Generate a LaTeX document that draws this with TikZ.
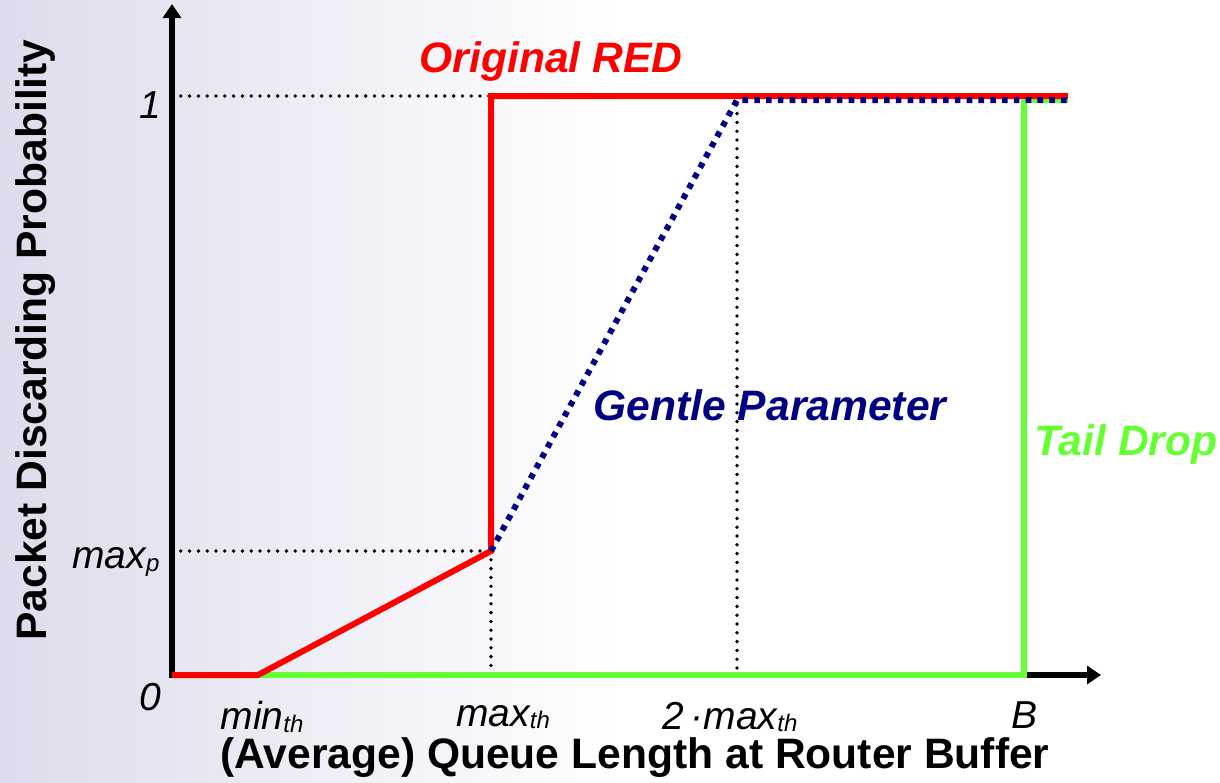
\documentclass[tikz,border=0pt]{standalone}
\usepackage{fontspec}
\setmainfont{Liberation Sans}
\usetikzlibrary{arrows.meta}
\definecolor{redline}{RGB}{255,0,0}
\definecolor{tailgreen}{RGB}{102,255,51}
\definecolor{gentleblue}{RGB}{0,0,128}
\definecolor{bgtint}{RGB}{220,220,236}
\newcommand{\sub}[1]{\raisebox{-0.1ex}{\fontsize{12}{12}\selectfont #1}}

\begin{document}
\begin{tikzpicture}[x=0.5pt,y=-0.5pt,
    axis/.style={line width=3pt,-{Triangle[length=7pt,width=9pt]}},
    guide/.style={line width=1.9pt,line cap=round,dash pattern=on 0pt off 4.4pt},
    redcurve/.style={redline,line width=3pt},
    gentle/.style={gentleblue,line width=3pt,dash pattern=on 2.8pt off 3.1pt},
    tail/.style={tailgreen,line width=2.6pt},
    ticklabel/.style={font=\fontsize{19.5}{22}\selectfont\itshape,inner sep=0pt},
    title/.style={font=\fontsize{21.3}{24}\selectfont\bfseries\itshape,inner sep=0pt}]
  % background
  \useasboundingbox (0,0) rectangle (1220,782);
  \fill[white] (0,0) rectangle (1220,782);
  \shade[left color=bgtint,right color=white] (0,0) rectangle (620,782);
  % nodes
  \coordinate (O) at (172,675);
  \coordinate (ytop) at (172,4);
  \coordinate (xend) at (1101,675);
  \coordinate (minth) at (258,675);
  \coordinate (maxth) at (491,675);
  \coordinate (twomax) at (737,675);
  \coordinate (B) at (1024,675);
  \coordinate (one) at (172,96);
  \coordinate (maxp) at (172,551);
  \coordinate (knee) at (491,551);
  \coordinate (jump) at (491,96);
  \coordinate (redend) at (1068,96);
  \coordinate (gtop) at (737,100);
  \coordinate (gend) at (1068,100);
  \coordinate (btop) at (1024,100);
  \coordinate (ttop) at (737,96);
  \node[ticklabel] (l0) at (150,697) {0};
  \node[ticklabel] (l1) at (150,105) {1};
  \node[ticklabel] (lmaxp) at (116,562) {max\sub{p}};
  \node[ticklabel] (lminth) at (262,717) {min\sub{th}};
  \node[ticklabel] (lmaxth) at (503,717) {max\sub{th}};
  \node[ticklabel] (ltwomax) at (730,717) {2\,·max\sub{th}};
  \node[ticklabel] (lB) at (1024,715) {B};
  \node[title,redline] (red) at (551,61) {Original RED};
  \node[title,gentleblue] (gentlelabel) at (770,405) {Gentle Parameter};
  \node[title,tailgreen] (taillabel) at (1126,444) {Tail Drop};
  \node[font=\fontsize{21.3}{24}\selectfont\bfseries,inner sep=0pt,rotate=90] (ylabel) at (36,340) {Packet Discarding Probability};
  \node[font=\fontsize{21.3}{24}\selectfont\bfseries,inner sep=0pt] (xlabel) at (635,758) {(Average) Queue Length at Router Buffer};
  % edges
  \draw[axis] ([yshift=-1.5pt]O) -- (ytop);
  \draw[axis] ([xshift=-1.5pt]O) -- (xend);
  \draw[guide] (one) -- (jump);
  \draw[guide] (maxp) -- (knee);
  \draw[guide] (knee) -- (maxth);
  \draw[guide] (ttop) -- (twomax);
  \draw[tail] (minth) -- (B) -- (btop) -- (gend);
  \draw[redcurve] (O) -- (minth) -- (knee) -- (jump) -- (redend);
  \draw[gentle] (knee) -- (gtop) -- (gend);
\end{tikzpicture}
\end{document}
